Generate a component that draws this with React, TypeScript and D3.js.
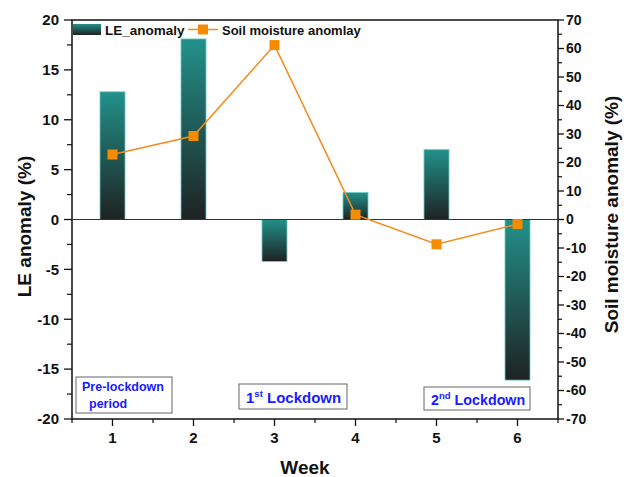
import React from "react";
import * as d3 from "d3";

const weeks = [1, 2, 3, 4, 5, 6];
const leAnomaly = [12.8, 18.1, -4.2, 2.7, 7.0, -16.1];
const soilMoisture = [22.8, 29.3, 61.2, 1.7, -8.7, -1.6];
const leftTicks = [-20, -15, -10, -5, 0, 5, 10, 15, 20];
const rightTicks = [-70, -60, -50, -40, -30, -20, -10, 0, 10, 20, 30, 40, 50, 60, 70];

const W = 627, H = 477;
const L = 72, R = 558, T = 20, B = 419;
const FONT = "'Liberation Sans', Arial, sans-serif";
const BLUE = "#1a1aff";

export default function App() {
  const x = d3.scaleLinear().domain([0.5, 6.5]).range([L, R]);
  const yL = d3.scaleLinear().domain([-20, 20]).range([B, T]);
  const yR = d3.scaleLinear().domain([-70, 70]).range([B, T]);
  const bw = 25;
  const line = d3.line<number>().x((_, i) => x(weeks[i])).y((d) => yR(d));
  const leftMinor = d3.range(-17.5, 20, 5);
  const rightMinor = d3.range(-65, 70, 10);
  const xMinor = d3.range(0.5, 7, 1);

  return (
    <svg width={W} height={H} style={{ position: "absolute", left: 0, top: 0, background: "#fff" }} fontFamily={FONT}>
      <defs>
        <linearGradient id="gpos" x1="0" y1="0" x2="0" y2="1">
          <stop offset="0" stopColor="#22918a" />
          <stop offset="1" stopColor="#1e2222" />
        </linearGradient>
      </defs>
      {/* frame */}
      <rect x={L} y={T} width={R - L} height={B - T} fill="none" stroke="#111" strokeWidth={1.5} />
      {/* bars */}
      {leAnomaly.map((v, i) => {
        const y0 = yL(0), y1 = yL(v);
        return (
          <rect key={i} x={x(weeks[i]) - bw / 2} y={Math.min(y0, y1)} width={bw} height={Math.abs(y1 - y0)}
            fill="url(#gpos)" stroke="#6cc9c0" strokeWidth={0.8} />
        );
      })}
      {/* zero line */}
      <line x1={L} x2={R} y1={yL(0)} y2={yL(0)} stroke="#333" strokeWidth={1.2} />
      {/* line series */}
      <path d={line(soilMoisture) || ""} fill="none" stroke="#f58b1f" strokeWidth={1.5} />
      {soilMoisture.map((v, i) => (
        <rect key={i} x={x(weeks[i]) - 5} y={yR(v) - 5} width={10} height={10} fill="#f58b00" />
      ))}
      {/* left axis */}
      {leftTicks.map((t) => (
        <g key={t}>
          <line x1={L - 8} x2={L} y1={yL(t)} y2={yL(t)} stroke="#111" strokeWidth={1.3} />
          <text x={L - 13} y={yL(t)} dy="0.35em" textAnchor="end" fontSize={15} fontWeight="bold" fill="#111">{t}</text>
        </g>
      ))}
      {leftMinor.map((t) => (
        <line key={t} x1={L - 5} x2={L} y1={yL(t)} y2={yL(t)} stroke="#111" strokeWidth={1.2} />
      ))}
      {/* right axis */}
      {rightTicks.map((t) => (
        <g key={t}>
          <line x1={R} x2={R + 6} y1={yR(t)} y2={yR(t)} stroke="#111" strokeWidth={1.3} />
          <text x={R + 8} y={yR(t)} dy="0.35em" textAnchor="start" fontSize={14} fontWeight="bold" fill="#111">{t}</text>
        </g>
      ))}
      {rightMinor.map((t) => (
        <line key={t} x1={R} x2={R + 4} y1={yR(t)} y2={yR(t)} stroke="#111" strokeWidth={1.2} />
      ))}
      {/* x axis */}
      {weeks.map((w) => (
        <g key={w}>
          <line x1={x(w)} x2={x(w)} y1={B} y2={B + 7} stroke="#111" strokeWidth={1.3} />
          <text x={x(w)} y={B + 24} textAnchor="middle" fontSize={15} fontWeight="bold" fill="#111">{w}</text>
        </g>
      ))}
      {xMinor.map((w) => (
        <line key={w} x1={x(w)} x2={x(w)} y1={B} y2={B + 4} stroke="#111" strokeWidth={1.2} />
      ))}
      {/* axis titles */}
      <text x={(L + R) / 2 - 10} y={474} textAnchor="middle" fontSize={19} fontWeight="bold" fill="#111">Week</text>
      <text transform={`translate(31,${(T + B) / 2 + 7}) rotate(-90)`} textAnchor="middle" fontSize={19} fontWeight="bold" fill="#111">LE anomaly (%)</text>
      <text transform={`translate(${W - 9},${(T + B) / 2 - 5}) rotate(-90)`} textAnchor="middle" fontSize={19} fontWeight="bold" fill="#111">Soil moisture anomaly (%)</text>
      {/* legend */}
      <rect x={73} y={24} width={28} height={11} fill="url(#gpos)" />
      <text x={105} y={34.5} fontSize={13.5} fontWeight="bold" fill="#111">LE_anomaly</text>
      <line x1={188} x2={218} y1={29.5} y2={29.5} stroke="#f58b1f" strokeWidth={1.5} />
      <rect x={198} y={24.5} width={10} height={10} fill="#f58b00" />
      <text x={222} y={34.5} fontSize={13} fontWeight="bold" fill="#111">Soil moisture anomlay</text>
      {/* annotations */}
      <rect x={76} y={377} width={96} height={36} fill="#fff" stroke="#666" strokeWidth={1} />
      <text x={82} y={391} fontSize={12.5} fontWeight="bold" fill={BLUE}>Pre-lockdown</text>
      <text x={89} y={408} fontSize={12.5} fontWeight="bold" fill={BLUE}>period</text>
      <rect x={239} y={384} width={108} height={25} fill="#fff" stroke="#666" strokeWidth={1} />
      <text x={246} y={402.5} fontSize={15} fontWeight="bold" fill={BLUE}>1<tspan fontSize={9.5} dy={-6}>st</tspan><tspan dy={6}> Lockdown</tspan></text>
      <rect x={424} y={387} width={106} height={23} fill="#fff" stroke="#666" strokeWidth={1} />
      <text x={431} y={404.5} fontSize={14.3} fontWeight="bold" fill={BLUE}>2<tspan fontSize={9.5} dy={-6}>nd</tspan><tspan dy={6}> Lockdown</tspan></text>
    </svg>
  );
}
